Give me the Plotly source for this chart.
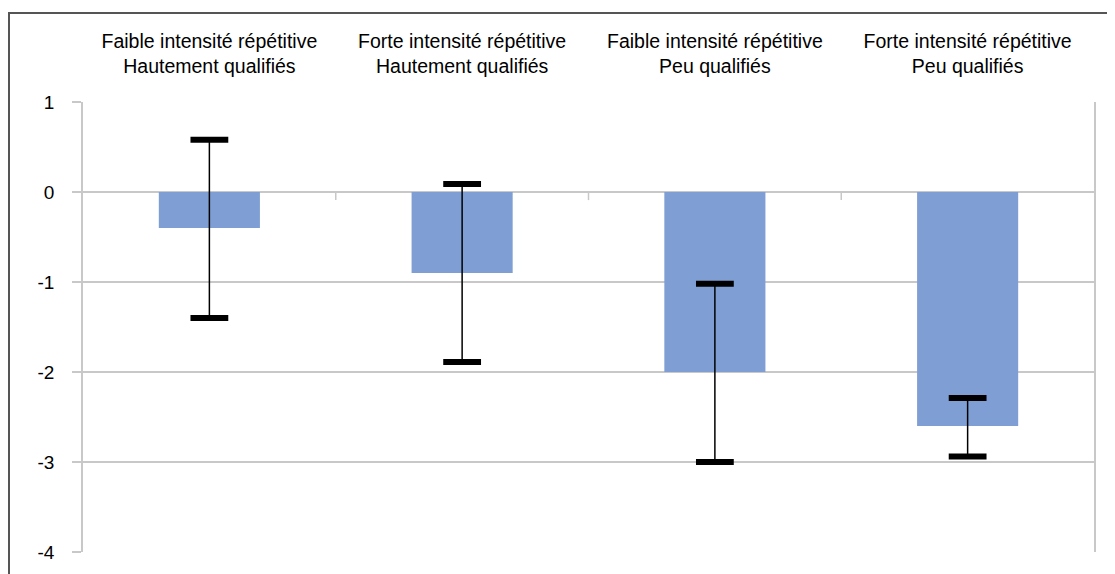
import plotly.graph_objects as go

categories = [
    "Faible intensité répétitive<br>Hautement qualifiés",
    "Forte intensité répétitive<br>Hautement qualifiés",
    "Faible intensité répétitive<br>Peu qualifiés",
    "Forte intensité répétitive<br>Peu qualifiés",
]
values = [-0.4, -0.9, -2.0, -2.6]
upper = [0.58, 0.09, -1.02, -2.29]
lower = [-1.40, -1.89, -3.00, -2.94]
y_ticks = [1, 0, -1, -2, -3, -4]

GRID = "#c8c8c8"
FONT = "Liberation Sans, Arial, Helvetica, sans-serif"

err_plus = [u - v for u, v in zip(upper, values)]
err_minus = [v - l for v, l in zip(values, lower)]

fig = go.Figure()
fig.add_trace(go.Bar(
    x=categories, y=values, width=0.4,
    marker=dict(color="#7f9fd4", line=dict(width=0)),
    error_y=dict(type="data", symmetric=False, array=err_plus, arrayminus=err_minus,
                 color="black", thickness=1.5, width=0),
    hoverinfo="skip", showlegend=False,
))
fig.add_trace(go.Scatter(
    x=categories + categories, y=upper + lower, mode="markers",
    marker=dict(symbol="line-ew", size=27, color="black", line=dict(width=6, color="black")),
    hoverinfo="skip", showlegend=False, cliponaxis=False,
))

# small category tick marks on the zero line (between categories)
for i in range(len(categories) - 1):
    fig.add_shape(type="line", xref="x", yref="y", x0=i + 0.5, x1=i + 0.5, y0=0, y1=-0.09,
                  line=dict(color=GRID, width=1.5), layer="below")

# outer chart border
fig.add_shape(type="rect", xref="paper", yref="paper",
              x0=-0.0732, x1=1.1, y0=-0.2, y1=1.198,
              line=dict(color="#555555", width=2), fillcolor="rgba(0,0,0,0)")

fig.update_layout(
    width=1107, height=566,
    margin=dict(l=75, r=21, t=94, b=22),
    paper_bgcolor="white", plot_bgcolor="white",
    font=dict(family=FONT, size=19, color="black"),
    bargap=0.6,
    xaxis=dict(side="top", type="category", showgrid=False, showline=False, ticks="",
               tickfont=dict(size=19.5), ticklabelstandoff=24, fixedrange=True),
    yaxis=dict(range=[-4, 1], tickvals=y_ticks, ticktext=[str(t) for t in y_ticks],
               showgrid=True, gridcolor=GRID, gridwidth=1.5,
               zeroline=True, zerolinecolor=GRID, zerolinewidth=1.5,
               showline=True, linecolor=GRID, linewidth=1.5, mirror=True,
               ticks="outside", ticklen=9, tickcolor=GRID, tickwidth=1.5,
               ticklabelstandoff=14, tickfont=dict(size=19), fixedrange=True),
)

fig.write_html("out.html")
